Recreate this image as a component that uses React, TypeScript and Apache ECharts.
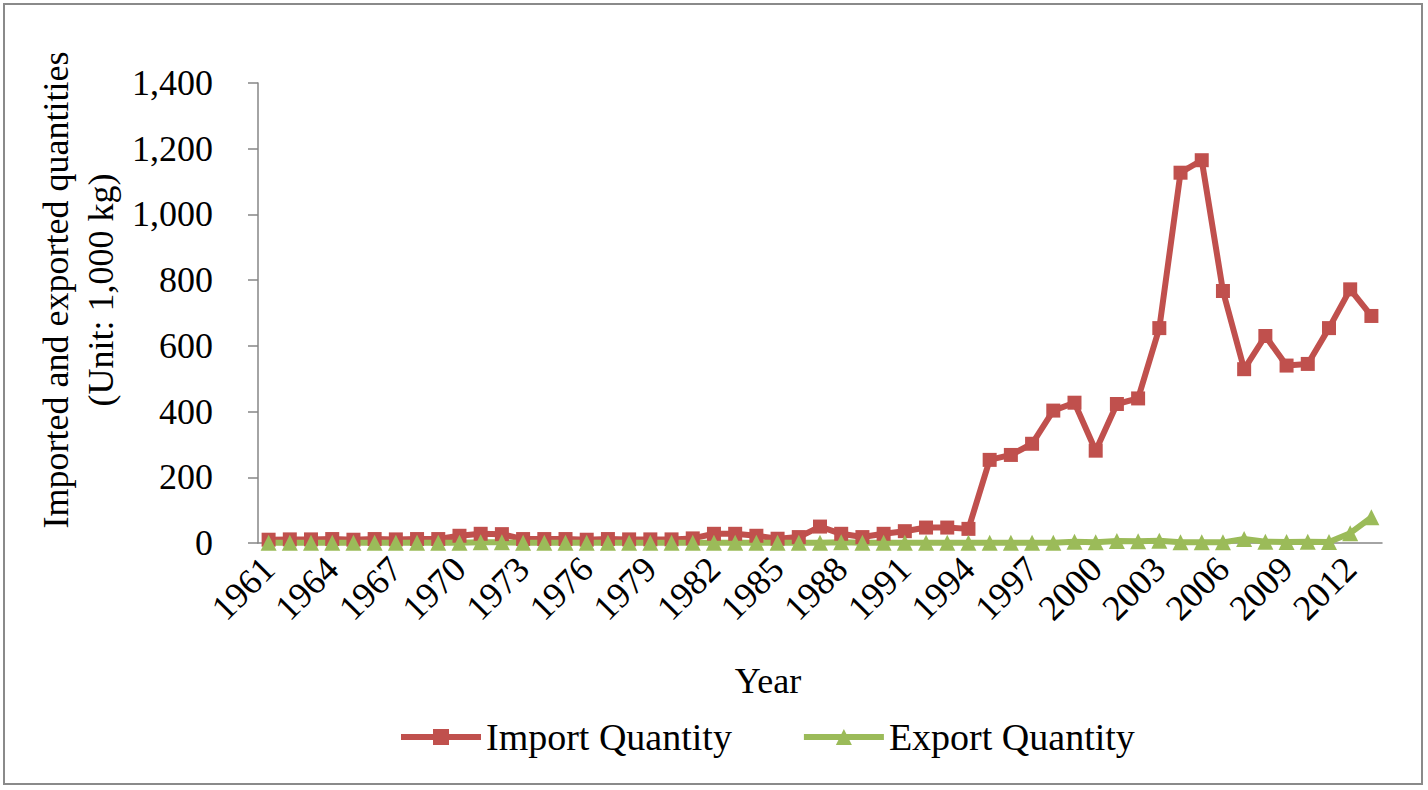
import React, { useEffect, useRef } from "react";
import * as echarts from "echarts";

const years: string[] = [
  "1961", "1962", "1963", "1964", "1965", "1966", "1967", "1968", "1969", "1970",
  "1971", "1972", "1973", "1974", "1975", "1976", "1977", "1978", "1979", "1980",
  "1981", "1982", "1983", "1984", "1985", "1986", "1987", "1988", "1989", "1990",
  "1991", "1992", "1993", "1994", "1995", "1996", "1997", "1998", "1999", "2000",
  "2001", "2002", "2003", "2004", "2005", "2006", "2007", "2008", "2009", "2010",
  "2011", "2012", "2013",
];

const importQuantity: number[] = [
  10, 11, 11, 12, 10, 12, 11, 12, 12, 22,
  28, 27, 12, 12, 12, 10, 12, 11, 11, 11,
  14, 28, 28, 22, 13, 18, 50, 28, 18, 28,
  36, 47, 47, 43, 253, 268, 302, 403, 427, 281,
  423, 440, 654, 1127, 1165, 767, 529, 630, 540, 545,
  654, 772, 691,
];

const exportQuantity: number[] = [
  1, 1, 1, 1, 1, 1, 1, 1, 1, 1,
  2, 2, 1, 1, 1, 1, 1, 1, 1, 1,
  1, 1, 1, 1, 1, 1, 1, 2, 1, 1,
  1, 1, 1, 1, 1, 1, 1, 1, 4, 2,
  6, 5, 7, 2, 2, 2, 12, 4, 3, 4,
  3, 30, 78,
];

const yTicks = { min: 0, max: 1400, interval: 200 };
const seriesNames = ["Import Quantity", "Export Quantity"];
const yTitle = "Imported and exported quantities\n(Unit: 1,000 kg)";
const xTitle = "Year";

const FONT = "'Liberation Serif', 'Times New Roman', serif";
const AXIS_GRAY = "#868686";
const RED = "#C0504D";
const GREEN = "#9BBB59";

export default function App() {
  const ref = useRef<HTMLDivElement>(null);

  useEffect(() => {
    if (!ref.current) return;
    const chart = echarts.init(ref.current, undefined, { renderer: "svg" });
    chart.setOption({
      animation: false,
      backgroundColor: "#ffffff",
      textStyle: { fontFamily: FONT, color: "#000" },
      grid: { left: 258, right: 46, top: 83, bottom: 247, containLabel: false },
      legend: {
        left: 398,
        top: 718,
        padding: 0,
        itemWidth: 80,
        itemHeight: 20,
        itemGap: 69,
        lineStyle: { width: 6 },
        textStyle: { fontFamily: FONT, fontSize: 38, color: "#000" },
        data: seriesNames,
      },
      xAxis: {
        type: "category",
        data: years,
        boundaryGap: true,
        name: xTitle,
        nameLocation: "middle",
        nameGap: 120,
        nameTextStyle: { fontFamily: FONT, fontSize: 36, color: "#000", padding: [0, 104, 0, 0] },
        axisLine: { show: true, lineStyle: { color: AXIS_GRAY, width: 1.5 } },
        axisTick: { show: false },
        axisLabel: {
          interval: 2,
          rotate: 45,
          margin: 20,
          fontFamily: FONT,
          fontSize: 36,
          color: "#000",
        },
        splitLine: { show: false },
      },
      yAxis: {
        type: "value",
        min: yTicks.min,
        max: yTicks.max,
        interval: yTicks.interval,
        axisLine: { show: true, lineStyle: { color: AXIS_GRAY, width: 1.5 } },
        axisTick: { show: true, inside: false, length: 10, lineStyle: { color: AXIS_GRAY, width: 1.5 } },
        axisLabel: {
          margin: 45,
          fontFamily: FONT,
          fontSize: 36,
          color: "#000",
          formatter: (v: number) => v.toLocaleString("en-US"),
        },
        splitLine: { show: false },
      },
      graphic: [
        {
          type: "rect",
          shape: { x: 4, y: 4, width: 1418, height: 780 },
          style: { fill: "none", stroke: "#8a8a8a", lineWidth: 2 },
          silent: true,
        },
        {
          type: "text",
          x: 78,
          y: 290,
          rotation: Math.PI / 2,
          style: {
            text: yTitle,
            font: `36px ${FONT}`,
            fill: "#000",
            align: "center",
            verticalAlign: "middle",
            lineHeight: 45,
          },
        },
      ],
      series: [
        {
          name: seriesNames[0],
          type: "line",
          data: importQuantity,
          symbol: "rect",
          symbolSize: 14,
          showAllSymbol: true,
          lineStyle: { width: 6, color: RED },
          itemStyle: { color: RED },
        },
        {
          name: seriesNames[1],
          type: "line",
          data: exportQuantity,
          symbol: "triangle",
          symbolSize: 16,
          showAllSymbol: true,
          lineStyle: { width: 6, color: GREEN },
          itemStyle: { color: GREEN },
        },
      ],
    });
    return () => chart.dispose();
  }, []);

  return (
    <div
      ref={ref}
      style={{ position: "fixed", left: 0, top: 0, width: 1428, height: 790, background: "#fff" }}
    />
  );
}
